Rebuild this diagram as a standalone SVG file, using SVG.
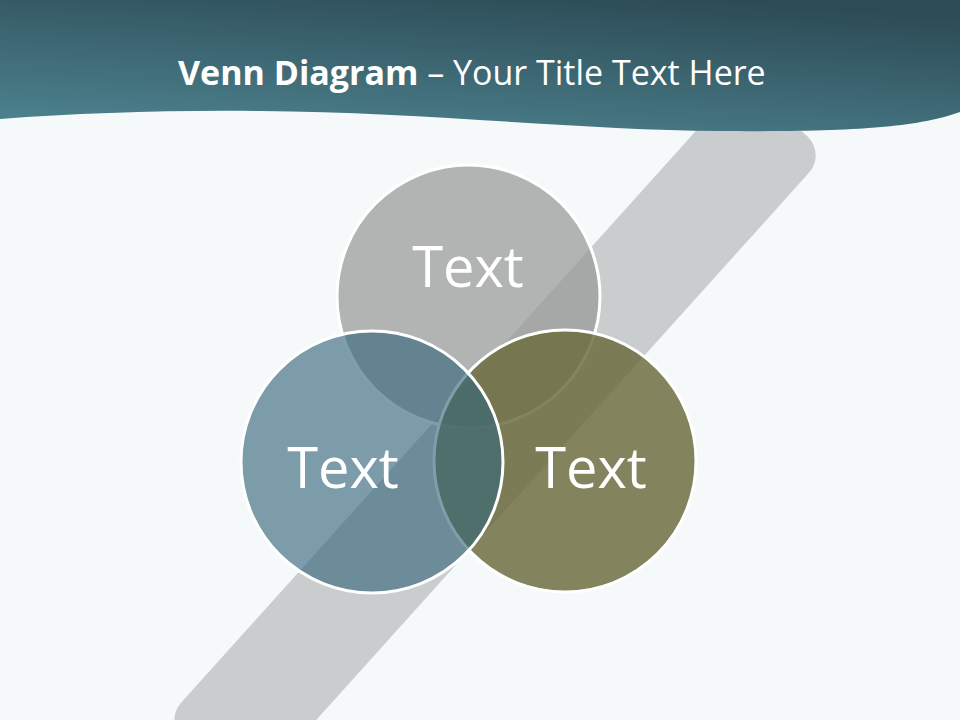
<svg xmlns="http://www.w3.org/2000/svg" width="960" height="720" viewBox="0 0 960 720">
  <defs>
    <linearGradient id="hdr" x1="0.25" y1="1" x2="0.75" y2="0">
      <stop offset="0" stop-color="#4b808c"/>
      <stop offset="1" stop-color="#2c4b56"/>
    </linearGradient>
    <style>
      .circ { stroke: #ffffff; stroke-width: 3; }
      .lbl { font-family: "Open Sans", "Liberation Sans", sans-serif; font-size: 56px; fill: #ffffff; text-anchor: middle; }
      .title { font-family: "Open Sans", "Liberation Sans", sans-serif; font-size: 34px; fill: #ffffff; }
    </style>
  </defs>
  <rect width="960" height="720" fill="#f5f9fa"/>
  <g id="band">
    <rect x="-430" y="-56" width="866" height="112" rx="26" fill="#c9cdcd" transform="translate(493,440) rotate(-48)"/>
  </g>
  <g id="header">
    <path d="M0,0 H960 V112 C 915,128 850,132 720,131 C 580,130 420,112 260,111 C 170,110 80,113 0,119 Z" fill="url(#hdr)"/>
    <text class="title" x="178" y="85"><tspan font-weight="bold">Venn Diagram</tspan> – Your Title Text Here</text>
  </g>
  <g id="node-top">
    <circle class="circ" cx="468.5" cy="296.5" r="131.5" fill="#999999" fill-opacity="0.72"/>
    <text class="lbl" x="468" y="287">Text</text>
  </g>
  <g id="node-right">
    <circle class="circ" cx="565" cy="461" r="131" fill="#6d6d3e" fill-opacity="0.84"/>
  </g>
  <g id="node-left">
    <circle class="circ" cx="372" cy="462" r="131" fill="#35687a" fill-opacity="0.64"/>
  </g>
  <text class="lbl" x="343" y="488">Text</text>
  <text class="lbl" x="591" y="488">Text</text>
  <g id="connectors"/>
</svg>
